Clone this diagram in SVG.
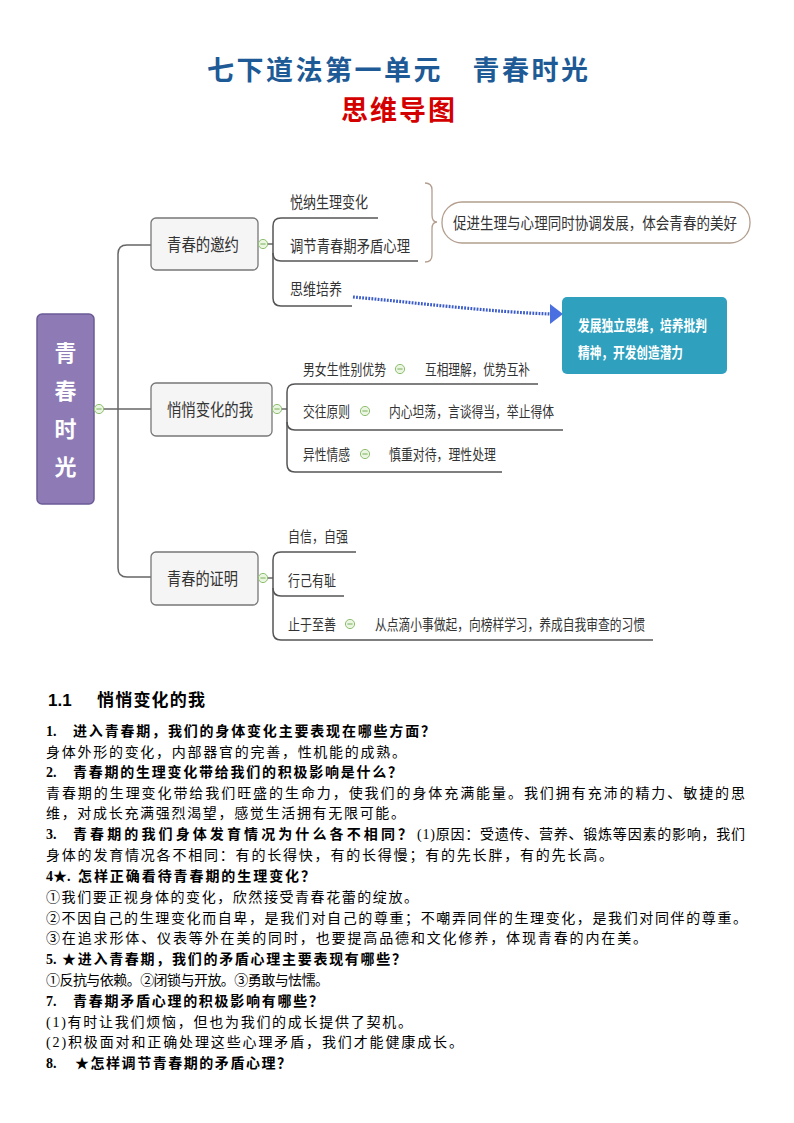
<svg xmlns="http://www.w3.org/2000/svg" xmlns:xlink="http://www.w3.org/1999/xlink" width="794" height="1123" viewBox="0 0 794 1123">
<style>
.t{font-family:"Noto Sans CJK SC","Noto Sans",sans-serif;fill:#333;}
.box{fill:#F5F5F5;stroke:#777;stroke-width:1.3;}
.ln{fill:none;stroke:#666;stroke-width:1.5;}
.ul{fill:none;stroke:#555;stroke-width:1.5;}
.doc{font-family:"Liberation Serif","Noto Sans CJK SC",serif;font-size:14px;fill:#000;}
.b{font-weight:bold;}
</style>
<defs>
<g id="minus"><circle cx="0" cy="0" r="4.6" fill="#EAF5E2" stroke="#8DBE6E" stroke-width="1"/><line x1="-2.6" y1="0" x2="2.6" y2="0" stroke="#7AAE5A" stroke-width="1"/></g>
</defs>
<rect width="794" height="1123" fill="#fff"/>
<g id="title">
<text x="207" y="80" font-family="Liberation Serif,Noto Sans CJK SC,serif" font-size="27" font-weight="bold" fill="#1D5A96" textLength="381" lengthAdjust="spacing">七下道法第一单元　青春时光</text>
<text x="341" y="120" font-family="Liberation Serif,Noto Sans CJK SC,serif" font-size="27" font-weight="bold" fill="#D40000" textLength="114" lengthAdjust="spacing">思维导图</text>
</g>
<g id="connectors">
<path class="ln" d="M104,409 H151"/>
<path class="ln" d="M151,245 H127 Q118,245 118,254 V568 Q118,577 127,577 H151"/>
<path class="ln" d="M268,244 H273"/>
<path class="ul" d="M378,218 H281 Q273,218 273,226 V298 Q273,306 281,306 H352"/>
<path class="ul" d="M273,253 Q273,261 281,261 H418"/>
<path class="ln" d="M282,409 H287"/>
<path class="ul" d="M538,384 H295 Q287,384 287,392 V464 Q287,472 295,472 H502"/>
<path class="ul" d="M287,422 Q287,430 295,430 H563"/>
<path class="ln" d="M268,578 H273"/>
<path class="ul" d="M356,552 H281 Q273,552 273,560 V632 Q273,640 281,640 H653"/>
<path class="ul" d="M273,588 Q273,596 281,596 H344"/>
<path d="M353,297 C420,303 490,312 551,314" fill="none" stroke="#3A5BC8" stroke-width="3.2" stroke-dasharray="1.8 1.3"/>
<polygon points="550,304 563,314 550,324" fill="#4A6FE0"/>
<path d="M425,183 Q432,183 432,190 V215 Q432,222 437,222 Q432,222 432,229 V255 Q432,262 425,262" fill="none" stroke="#B39E8E" stroke-width="1.3"/>
</g>
<g id="root">
<rect x="37" y="314" width="57" height="190" rx="5" fill="#8E7BB6" stroke="#6B5B95" stroke-width="1.5"/>
<text x="65.5" y="361" font-family="Noto Sans CJK SC,sans-serif" font-size="22" font-weight="bold" fill="#fff" text-anchor="middle">青</text>
<text x="65.5" y="399" font-family="Noto Sans CJK SC,sans-serif" font-size="22" font-weight="bold" fill="#fff" text-anchor="middle">春</text>
<text x="65.5" y="437" font-family="Noto Sans CJK SC,sans-serif" font-size="22" font-weight="bold" fill="#fff" text-anchor="middle">时</text>
<text x="65.5" y="475" font-family="Noto Sans CJK SC,sans-serif" font-size="22" font-weight="bold" fill="#fff" text-anchor="middle">光</text>
<use xlink:href="#minus" x="99" y="409"/>
</g>
<g id="n1">
<rect class="box" x="151" y="218" width="107" height="52" rx="5"/>
<text class="t" x="167" y="251" font-size="17" textLength="72" lengthAdjust="spacingAndGlyphs">青春的邀约</text>
<use xlink:href="#minus" x="263" y="244"/>
</g>
<g id="n1a"><text class="t" x="290" y="208" font-size="16" textLength="78" lengthAdjust="spacingAndGlyphs">悦纳生理变化</text></g>
<g id="n1b"><text class="t" x="290" y="252" font-size="16" textLength="120" lengthAdjust="spacingAndGlyphs">调节青春期矛盾心理</text></g>
<g id="n1c"><text class="t" x="290" y="295" font-size="16" textLength="52" lengthAdjust="spacingAndGlyphs">思维培养</text></g>
<g id="summary">
<rect x="442" y="202" width="308" height="41" rx="20" fill="#fff" stroke="#B39E8E" stroke-width="1.3"/>
<text class="t" x="453" y="229" font-size="16" textLength="284" lengthAdjust="spacingAndGlyphs">促进生理与心理同时协调发展，体会青春的美好</text>
</g>
<g id="callout">
<rect x="562" y="297" width="165" height="77" rx="5" fill="#2FA1BE"/>
<text x="578" y="331" font-family="Noto Sans CJK SC,sans-serif" font-size="15" font-weight="bold" fill="#fff" textLength="129" lengthAdjust="spacingAndGlyphs">发展独立思维，培养批判</text>
<text x="578" y="358" font-family="Noto Sans CJK SC,sans-serif" font-size="15" font-weight="bold" fill="#fff" textLength="105" lengthAdjust="spacingAndGlyphs">精神，开发创造潜力</text>
</g>
<g id="n2">
<rect class="box" x="151" y="383" width="121" height="53" rx="5"/>
<text class="t" x="167" y="416" font-size="17" textLength="86" lengthAdjust="spacingAndGlyphs">悄悄变化的我</text>
<use xlink:href="#minus" x="277" y="409"/>
</g>
<g id="n2a">
<text class="t" x="303" y="375" font-size="15" textLength="83" lengthAdjust="spacingAndGlyphs">男女生性别优势</text>
<use xlink:href="#minus" x="400" y="369"/>
<text class="t" x="425" y="375" font-size="15" textLength="105" lengthAdjust="spacingAndGlyphs">互相理解，优势互补</text>
</g>
<g id="n2b">
<text class="t" x="303" y="417" font-size="15" textLength="47" lengthAdjust="spacingAndGlyphs">交往原则</text>
<use xlink:href="#minus" x="365" y="411"/>
<text class="t" x="389" y="417" font-size="15" textLength="165" lengthAdjust="spacingAndGlyphs">内心坦荡，言谈得当，举止得体</text>
</g>
<g id="n2c">
<text class="t" x="303" y="460" font-size="15" textLength="47" lengthAdjust="spacingAndGlyphs">异性情感</text>
<use xlink:href="#minus" x="365" y="454"/>
<text class="t" x="389" y="460" font-size="15" textLength="107" lengthAdjust="spacingAndGlyphs">慎重对待，理性处理</text>
</g>
<g id="n3">
<rect class="box" x="151" y="552" width="107" height="53" rx="5"/>
<text class="t" x="167" y="585" font-size="17" textLength="71" lengthAdjust="spacingAndGlyphs">青春的证明</text>
<use xlink:href="#minus" x="263" y="578"/>
</g>
<g id="n3a"><text class="t" x="288" y="542" font-size="15" textLength="60" lengthAdjust="spacingAndGlyphs">自信，自强</text></g>
<g id="n3b"><text class="t" x="288" y="586" font-size="15" textLength="48" lengthAdjust="spacingAndGlyphs">行己有耻</text></g>
<g id="n3c">
<text class="t" x="288" y="630" font-size="15" textLength="48" lengthAdjust="spacingAndGlyphs">止于至善</text>
<use xlink:href="#minus" x="350" y="624"/>
<text class="t" x="375" y="630" font-size="15" textLength="270" lengthAdjust="spacingAndGlyphs">从点滴小事做起，向榜样学习，养成自我审查的习惯</text>
</g>
<g id="doc">
<text x="48" y="706" font-family="Liberation Sans,Noto Sans CJK SC,sans-serif" font-size="17" font-weight="bold" fill="#000">1.1</text>
<text x="97" y="706" font-family="Noto Sans CJK SC,sans-serif" font-size="17" font-weight="bold" fill="#000" textLength="108" lengthAdjust="spacing">悄悄变化的我</text>
<text class="doc b" x="46" y="736">1.</text>
<text class="doc b" x="73" y="736" textLength="362" lengthAdjust="spacing">进入青春期，我们的身体变化主要表现在哪些方面？</text>
<text class="doc" x="46" y="757" textLength="360" lengthAdjust="spacing">身体外形的变化，内部器官的完善，性机能的成熟。</text>
<text class="doc b" x="46" y="777">2.</text>
<text class="doc b" x="73" y="777" textLength="329" lengthAdjust="spacing">青春期的生理变化带给我们的积极影响是什么？</text>
<text class="doc" x="46" y="798" textLength="699" lengthAdjust="spacing">青春期的生理变化带给我们旺盛的生命力，使我们的身体充满能量。我们拥有充沛的精力、敏捷的思</text>
<text class="doc" x="46" y="818" textLength="359" lengthAdjust="spacing">维，对成长充满强烈渴望，感觉生活拥有无限可能。</text>
<text class="doc b" x="46" y="839">3.</text>
<text class="doc b" x="73" y="839" textLength="339" lengthAdjust="spacing">青春期的我们身体发育情况为什么各不相同？</text>
<text class="doc" x="417" y="839" textLength="328" lengthAdjust="spacing">(1)原因：受遗传、营养、锻炼等因素的影响，我们</text>
<text class="doc" x="46" y="860" textLength="567" lengthAdjust="spacing">身体的发育情况各不相同：有的长得快，有的长得慢；有的先长胖，有的先长高。</text>
<text class="doc b" x="46" y="881">4★.</text>
<text class="doc b" x="78" y="881" textLength="237" lengthAdjust="spacing">怎样正确看待青春期的生理变化？</text>
<text class="doc" x="46" y="902" textLength="372" lengthAdjust="spacing">①我们要正视身体的变化，欣然接受青春花蕾的绽放。</text>
<text class="doc" x="46" y="923" textLength="701" lengthAdjust="spacing">②不因自己的生理变化而自卑，是我们对自己的尊重；不嘲弄同伴的生理变化，是我们对同伴的尊重。</text>
<text class="doc" x="46" y="943" textLength="601" lengthAdjust="spacing">③在追求形体、仪表等外在美的同时，也要提高品德和文化修养，体现青春的内在美。</text>
<text class="doc b" x="46" y="964">5.</text>
<text class="doc b" x="62" y="964" textLength="344" lengthAdjust="spacing">★进入青春期，我们的矛盾心理主要表现有哪些？</text>
<text class="doc" x="46" y="985" textLength="283" lengthAdjust="spacing">①反抗与依赖。②闭锁与开放。③勇敢与怯懦。</text>
<text class="doc b" x="46" y="1006">7.</text>
<text class="doc b" x="73" y="1006" textLength="250" lengthAdjust="spacing">青春期矛盾心理的积极影响有哪些？</text>
<text class="doc" x="46" y="1027" textLength="366" lengthAdjust="spacing">(1)有时让我们烦恼，但也为我们的成长提供了契机。</text>
<text class="doc" x="46" y="1047" textLength="417" lengthAdjust="spacing">(2)积极面对和正确处理这些心理矛盾，我们才能健康成长。</text>
<text class="doc b" x="46" y="1068">8.</text>
<text class="doc b" x="75" y="1068" textLength="216" lengthAdjust="spacing">★怎样调节青春期的矛盾心理？</text>
</g>
</svg>
